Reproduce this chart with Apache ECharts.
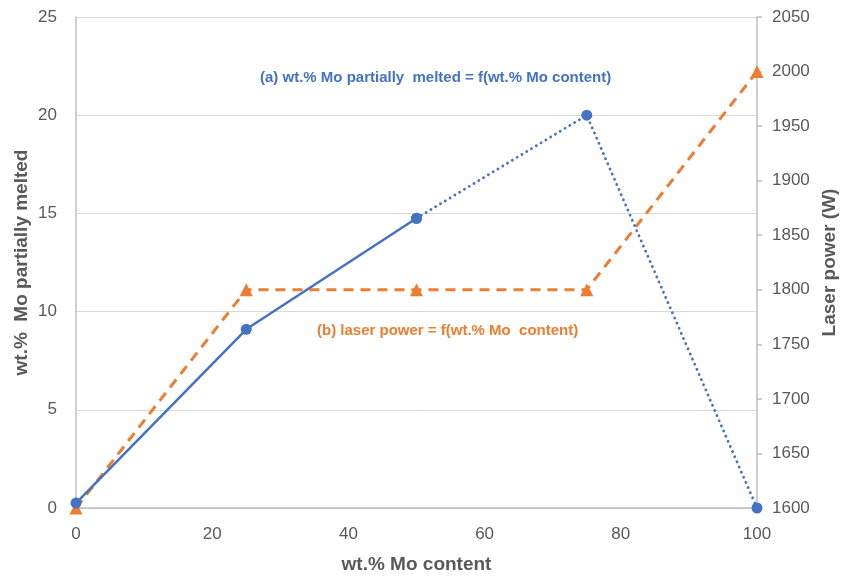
<!DOCTYPE html>
<html>
<head>
<meta charset="utf-8">
<script src="https://cdn.jsdelivr.net/npm/echarts@6/dist/echarts.min.js"></script>
<style>html,body{margin:0;padding:0;background:#fff}#c{width:848px;height:576px}</style>
</head>
<body>
<div id="c"></div>
<script>
const moContent = [0, 25, 50, 75, 100];
const moMeltedSolid = [[0, 0.25], [25, 9.1], [50, 14.75]];
const moMeltedDotted = [[50, 14.75], [75, 20.0], [100, 0]];
const laserPower = [1600, 1800, 1800, 1800, 2000];
const xTicks = [0, 20, 40, 60, 80, 100];
const leftTicks = [0, 5, 10, 15, 20, 25];
const rightTicks = [1600, 1650, 1700, 1750, 1800, 1850, 1900, 1950, 2000, 2050];
const labelA = '(a) wt.% Mo partially  melted = f(wt.% Mo content)';
const labelB = '(b) laser power = f(wt.% Mo  content)';

const BLUE = '#4472C4', ORANGE = '#ED7D31', TXT = '#595959';
const FONT = '"Liberation Sans", "DejaVu Sans", sans-serif';

const chart = echarts.init(document.getElementById('c'), null, {renderer: 'canvas'});
chart.setOption({
  animation: false,
  backgroundColor: '#fff',
  textStyle: {fontFamily: FONT},
  grid: {left: 76, right: 91, top: 17, bottom: 68, containLabel: false, outerBoundsMode: 'none'},
  xAxis: {
    type: 'value', min: xTicks[0], max: xTicks[xTicks.length-1], interval: 20,
    name: 'wt.% Mo content', nameLocation: 'middle', nameGap: 47,
    nameTextStyle: {color: TXT, fontSize: 19, fontWeight: 'bold', fontFamily: FONT},
    axisLine: {lineStyle: {color: '#bfbfbf', width: 1.5}},
    axisTick: {show: false},
    axisLabel: {color: TXT, fontSize: 17, margin: 18, fontFamily: FONT},
    splitLine: {show: false}
  },
  yAxis: [{
    type: 'value', min: leftTicks[0], max: leftTicks[leftTicks.length-1], interval: 5,
    name: 'wt.%  Mo partially melted', nameLocation: 'middle', nameGap: 45, nameRotate: 90,
    nameMoveOverlap: false,
    nameTextStyle: {color: TXT, fontSize: 19, fontWeight: 'bold', fontFamily: FONT},
    axisLine: {show: true, lineStyle: {color: '#bfbfbf', width: 1.5}},
    axisTick: {show: false},
    axisLabel: {color: TXT, fontSize: 17, margin: 19, fontFamily: FONT},
    splitLine: {show: true, lineStyle: {color: '#d9d9d9', width: 1}}
  }, {
    type: 'value', position: 'right', min: rightTicks[0], max: rightTicks[rightTicks.length-1], interval: 50,
    name: 'Laser power (W)', nameLocation: 'middle', nameGap: 63, nameRotate: 90,
    nameTextStyle: {color: TXT, fontSize: 19, fontWeight: 'bold', fontFamily: FONT},
    axisLine: {show: true, lineStyle: {color: '#bfbfbf', width: 1.5}},
    axisTick: {show: true, inside: false, length: 5, lineStyle: {color: '#bfbfbf', width: 1.5}},
    axisLabel: {color: TXT, fontSize: 17, margin: 15, fontFamily: FONT, formatter: v => String(v)},
    splitLine: {show: false}
  }],
  series: [{
    name: 'laser', type: 'line', yAxisIndex: 1,
    data: moContent.map((x, i) => [x, laserPower[i]]),
    symbol: 'triangle', symbolSize: 13,
    itemStyle: {color: ORANGE},
    lineStyle: {color: ORANGE, width: 3, type: [10, 7]},
    z: 2
  }, {
    name: 'meltedSolid', type: 'line', yAxisIndex: 0,
    data: moMeltedSolid,
    symbol: 'circle', symbolSize: 11,
    itemStyle: {color: BLUE},
    lineStyle: {color: BLUE, width: 2.5},
    z: 3
  }, {
    name: 'meltedDotted', type: 'line', yAxisIndex: 0,
    data: moMeltedDotted,
    symbol: 'circle', symbolSize: 11,
    itemStyle: {color: BLUE},
    lineStyle: {color: BLUE, width: 2.8, type: [0.1, 5.5], cap: 'round'},
    z: 3
  }],
  graphic: [{
    type: 'text', left: 260, top: 70,
    style: {text: labelA, fill: BLUE, fontSize: 15, fontWeight: 'bold', fontFamily: FONT}
  }, {
    type: 'text', left: 317, top: 323,
    style: {text: labelB, fill: ORANGE, fontSize: 15, fontWeight: 'bold', fontFamily: FONT}
  }]
});
</script>
</body>
</html>
